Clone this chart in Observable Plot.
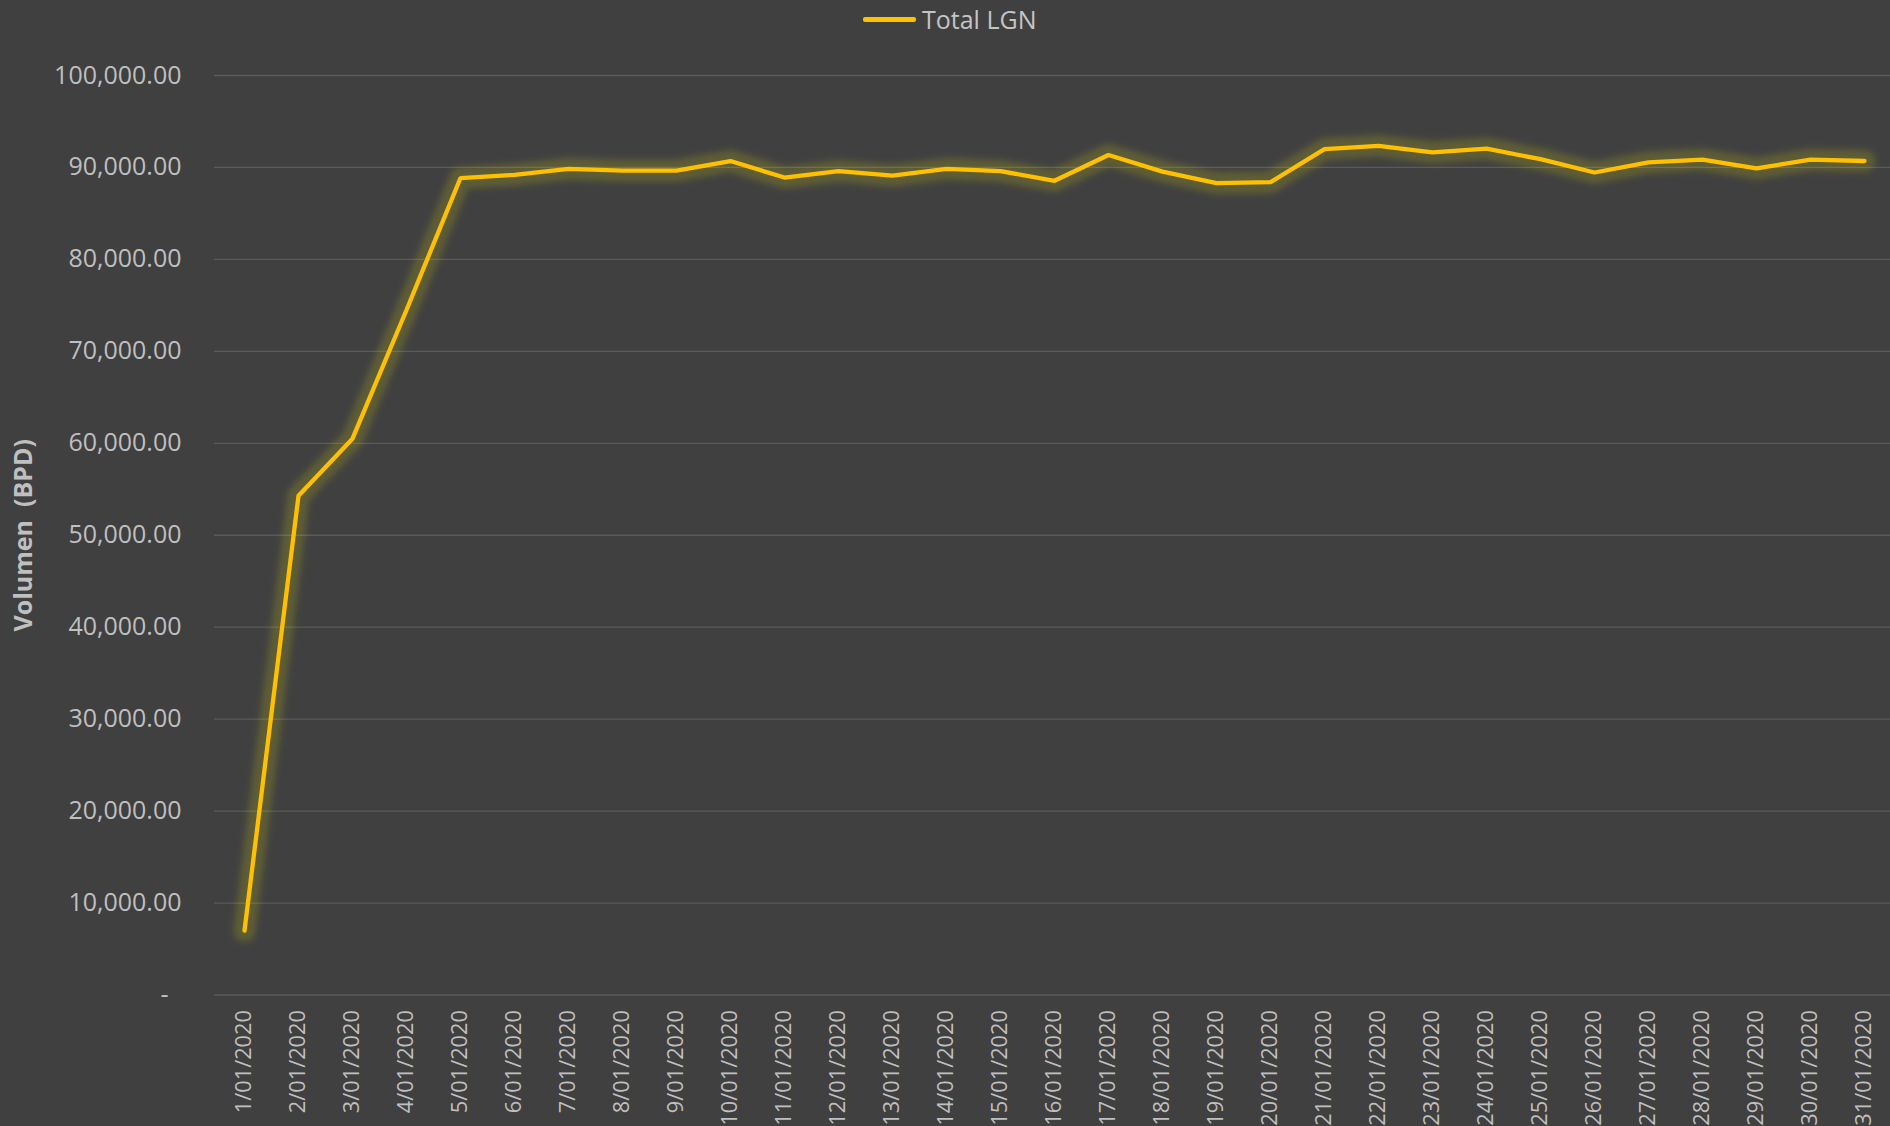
<!DOCTYPE html>
<html>
<head>
<meta charset="utf-8">
<script src="https://cdn.jsdelivr.net/npm/d3@7"></script>
<script src="https://cdn.jsdelivr.net/npm/@observablehq/plot@0.6"></script>
<style>
  html, body { margin: 0; padding: 0; background: #404040; overflow: hidden; }
  #legend { position: relative; height: 38px; width: 1890px; font-family: "Open Sans", sans-serif; }
  #legend .swatch { position: absolute; left: 863px; top: 16.5px; width: 53px; height: 5px; background: #FFC000; border-radius: 2px; }
  #legend .label { position: absolute; left: 922px; top: 2px; font-size: 25px; line-height: 34px; color: #c4c4c4; }
</style>
</head>
<body>
<div id="legend"><div class="swatch"></div><div class="label">Total LGN</div></div>
<div id="chart"></div>
<script>
const dates = [
  "1/01/2020","2/01/2020","3/01/2020","4/01/2020","5/01/2020","6/01/2020","7/01/2020","8/01/2020",
  "9/01/2020","10/01/2020","11/01/2020","12/01/2020","13/01/2020","14/01/2020","15/01/2020","16/01/2020",
  "17/01/2020","18/01/2020","19/01/2020","20/01/2020","21/01/2020","22/01/2020","23/01/2020","24/01/2020",
  "25/01/2020","26/01/2020","27/01/2020","28/01/2020","29/01/2020","30/01/2020","31/01/2020"
];
const totalLGN = [
  7000, 54300, 60500, 74500, 88850, 89200, 89850, 89650,
  89650, 90700, 88900, 89600, 89100, 89850, 89600, 88550,
  91350, 89550, 88300, 88400, 92000, 92350, 91650, 92050,
  90900, 89450, 90550, 90850, 89900, 90850, 90700
];
const yTicks = [0, 10000, 20000, 30000, 40000, 50000, 60000, 70000, 80000, 90000, 100000];
const seriesName = "Total LGN";
const yTitle = "Volumen  (BPD)";

const data = dates.map((d, i) => ({date: d, value: totalLGN[i]}));
const fmt = d3.format(",.2f");

const plot = Plot.plot({
  width: 1890,
  height: 1088,
  marginLeft: 214,
  marginRight: 0,
  marginTop: 37,
  marginBottom: 131.5,
  style: {background: "#404040", color: "#bfbfbf", fontFamily: "'Open Sans', sans-serif"},
  x: {type: "point", domain: dates, range: [214, 1893.6], padding: 0.5},
  y: {domain: [0, 100000]},
  marks: [
    Plot.ruleY(yTicks, {stroke: "#5a5a5a", strokeWidth: 1.3}),
    Plot.axisY({ticks: yTicks, tickSize: 0, tickPadding: 33, fontSize: 25, fill: "#bfbfbf",
      tickFormat: d => d === 0 ? "-\u00A0\u00A0" : fmt(d), label: null}),
    Plot.axisX({tickRotate: -90, tickSize: 0, tickPadding: 15, fontSize: 21.8, fill: "#bfbfbf", label: null}),
    Plot.text([yTitle], {frameAnchor: "left", textAnchor: "middle", dx: -191, rotate: -90, fontSize: 25, fontWeight: "bold", fill: "#bfbfbf"}),
    Plot.line(data, {x: "date", y: "value", stroke: "#f2ee10", strokeOpacity: 0.17, strokeWidth: 22, strokeLinejoin: "round"}),
    Plot.line(data, {x: "date", y: "value", stroke: "#FFC000", strokeWidth: 4.3, strokeLinejoin: "miter", strokeLinecap: "round"})
  ]
});

const ns = "http://www.w3.org/2000/svg";
const defs = document.createElementNS(ns, "defs");
defs.innerHTML = '<filter id="glowf" filterUnits="userSpaceOnUse" x="0" y="0" width="1890" height="1088"><feGaussianBlur stdDeviation="3"/></filter>';
plot.insertBefore(defs, plot.firstChild);
const lines = plot.querySelectorAll('g[aria-label="line"]');
if (lines.length) lines[0].setAttribute("filter", "url(#glowf)");

document.getElementById("chart").appendChild(plot);
</script>
</body>
</html>
